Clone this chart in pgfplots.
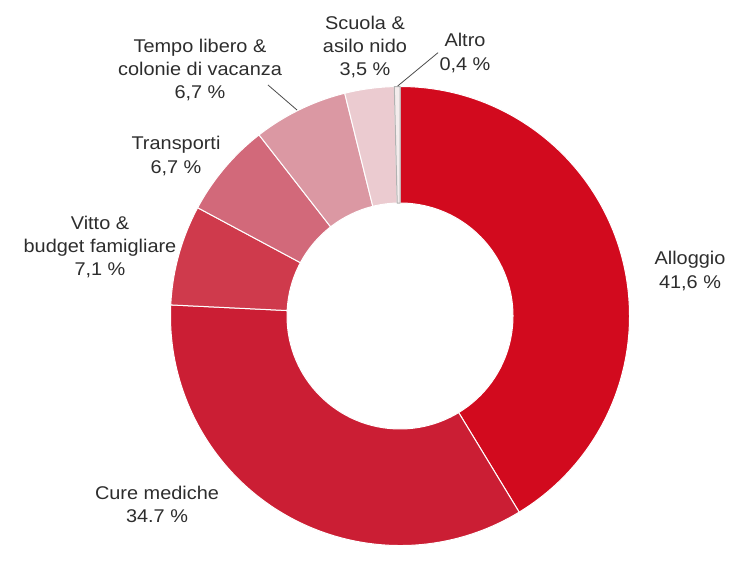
\documentclass[border=0pt]{standalone}
\usepackage{pgfplots}
\pgfplotsset{compat=1.18}
\usepackage{fontspec}
\setmainfont[FakeStretch=1.08]{Liberation Sans}
\definecolor{cA}{RGB}{210,10,30}
\definecolor{cB}{RGB}{203,30,52}
\definecolor{cC}{RGB}{207,58,76}
\definecolor{cD}{RGB}{210,105,122}
\definecolor{cE}{RGB}{219,152,163}
\definecolor{cF}{RGB}{235,203,208}
\definecolor{cG}{RGB}{244,236,236}
\definecolor{txt}{RGB}{45,45,45}
\def\cx{400}
\def\cy{232}
\def\Ro{229.5}
\def\Ri{113}
\def\total{100.7}
\gdef\cum{0}
\newcommand\slice[3]{%
  \pgfmathsetmacro\aone{90-\cum/\total*360}%
  \pgfmathsetmacro\atwo{90-(\cum+#1)/\total*360}%
  \pgfmathsetmacro\xo{\cx+\Ro*cos(\aone)}%
  \pgfmathsetmacro\yo{\cy+\Ro*sin(\aone)}%
  \pgfmathsetmacro\xin{\cx+\Ri*cos(\atwo)}%
  \pgfmathsetmacro\yin{\cy+\Ri*sin(\atwo)}%
  \edef\temp{\noexpand\filldraw[fill=#2, draw=#3, line width=1bp, line join=round] (axis cs:\xo,\yo) arc[start angle=\aone, end angle=\atwo, radius=\Ro bp] -- (axis cs:\xin,\yin) arc[start angle=\atwo, end angle=\aone, radius=\Ri bp] -- cycle;}%
  \temp
  \pgfmathsetmacro\newcum{\cum+#1}%
  \xdef\cum{\newcum}%
}
\begin{document}
\begin{tikzpicture}
\begin{axis}[hide axis, scale only axis, width=730bp, height=548bp,
  xmin=0, xmax=730, ymin=0, ymax=548, clip=false]
\path (axis cs:0,0) rectangle (axis cs:730,548);
% values in percent
\slice{41.6}{cA}{white}
\slice{34.7}{cB}{white}
\slice{7.1}{cC}{white}
\slice{6.7}{cD}{white}
\slice{6.7}{cE}{white}
\slice{3.5}{cF}{white}
\slice{0.4}{cG}{gray!60}
\draw[black!70, line width=0.8bp] (axis cs:397.7,462) -- (axis cs:438,495.3);
\draw[black!70, line width=0.8bp] (axis cs:268,463) -- (axis cs:297,438);
\tikzset{lab/.style={align=center, text=txt, font=\fontsize{18.5}{23.5}\selectfont}}
\node[lab] at (axis cs:690,277) {Alloggio\\41,6 \%};
\node[lab] at (axis cs:157,43.5) {Cure mediche\\34.7 \%};
\node[lab] at (axis cs:100,301) {Vitto \&\\budget famigliare\\7,1 \%};
\node[lab] at (axis cs:176,392) {Transporti\\6,7 \%};
\node[lab] at (axis cs:200,478) {Tempo libero \&\\colonie di vacanza\\6,7 \%};
\node[lab] at (axis cs:365,501) {Scuola \&\\asilo nido\\3,5 \%};
\node[lab] at (axis cs:465,495) {Altro\\0,4 \%};
\end{axis}
\end{tikzpicture}
\end{document}
